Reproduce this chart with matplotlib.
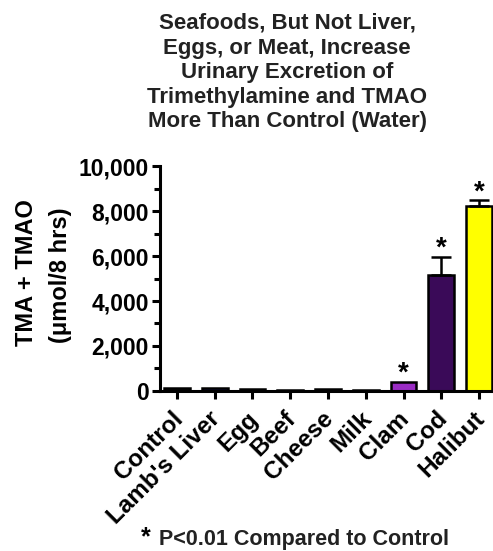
import numpy as np
import matplotlib.pyplot as plt
import matplotlib.transforms as mtransforms
from matplotlib.ticker import MultipleLocator, FuncFormatter

plt.rcParams['font.family'] = ['Liberation Sans', 'DejaVu Sans']
plt.rcParams['font.weight'] = 'bold'

foods = ["Control", "Lamb's Liver", "Egg", "Beef", "Cheese", "Milk", "Clam", "Cod", "Halibut"]
tma_tmao = [120, 150, 100, 50, 80, 50, 410, 5150, 8220]
sem = [0, 0, 0, 0, 0, 0, 0, 820, 270]
significant = [False, False, False, False, False, False, True, True, True]
bar_colors = ["#111111", "#1c1c5a", "#111111", "#111111", "#111111", "#111111",
              "#9a2cc4", "#3a0a58", "#ffff00"]

fig = plt.figure(figsize=(4.93, 5.51), dpi=100)
ax = fig.add_axes([0.3245, 0.2904, 0.6755, 0.4083])

x = np.arange(len(foods))
ax.bar(x, tma_tmao, width=0.68, color=bar_colors, edgecolor="black", linewidth=1.8, zorder=2)
for i in range(len(foods)):
	if sem[i] > 0:
		# error bar only on the upper side
		ax.errorbar(x[i], tma_tmao[i], yerr=[[0], [sem[i]]], fmt="none", ecolor="black",
					elinewidth=1.8, capsize=7, capthick=1.8, zorder=3)
	if significant[i]:
		ax.text(x[i], tma_tmao[i] + sem[i] + 30, "*", ha="center", va="baseline",
				fontsize=20, fontweight="bold")

ax.set_ylim(0, 10000)
ax.set_xlim(-0.45, 8.37)
ax.yaxis.set_major_locator(MultipleLocator(2000))
ax.yaxis.set_minor_locator(MultipleLocator(1000))
ax.yaxis.set_major_formatter(FuncFormatter(lambda v, p: "{:,.0f}".format(v)))
ax.set_xticks(x)
ax.set_xticklabels([""] * len(foods))

# slanted category labels, drawn by hand so they can sit a bit left of the ticks
shift = mtransforms.ScaledTranslation(-6 / 100, -16 / 100, fig.dpi_scale_trans)
for i in range(len(foods)):
	ax.text(x[i], 0, foods[i], transform=ax.get_xaxis_transform() + shift,
			rotation=45, rotation_mode="anchor", ha="right", va="top",
			fontsize=17.5, fontweight="bold")

for side in ["top", "right"]:
	ax.spines[side].set_visible(False)
for side in ["left", "bottom"]:
	ax.spines[side].set_linewidth(2.2)
ax.tick_params(axis="both", which="major", width=2.2, length=6)
ax.tick_params(axis="y", labelsize=16.5, pad=2)
ax.tick_params(axis="y", which="minor", width=2.2, length=4)

# y label placed as two lines by hand
fig.text(27 / 493, 1 - 273 / 551, "TMA + TMAO", rotation=90, ha="center", va="center",
		 fontsize=17, fontweight="bold")
fig.text(61 / 493, 1 - 275 / 551, "(\u03bcmol/8 hrs)", rotation=90, ha="center", va="center",
		 fontsize=17, fontweight="bold")

fig.text(287 / 493, 1 - 13 / 551, "Seafoods, But Not Liver,\nEggs, or Meat, Increase\nUrinary Excretion of\nTrimethylamine and TMAO\nMore Than Control (Water)",
		 ha="center", va="top", fontsize=16, fontweight="bold", linespacing=1.22, color="#222222")

fig.text(141 / 493, 1 - 544 / 551, "*", ha="left", va="baseline", fontsize=18, fontweight="bold")
fig.text(159 / 493, 1 - 539 / 551, "P<0.01 Compared to Control", ha="left", va="center",
		 fontsize=15.5, fontweight="bold", color="#222222")

fig.savefig("out.png", dpi=100)
